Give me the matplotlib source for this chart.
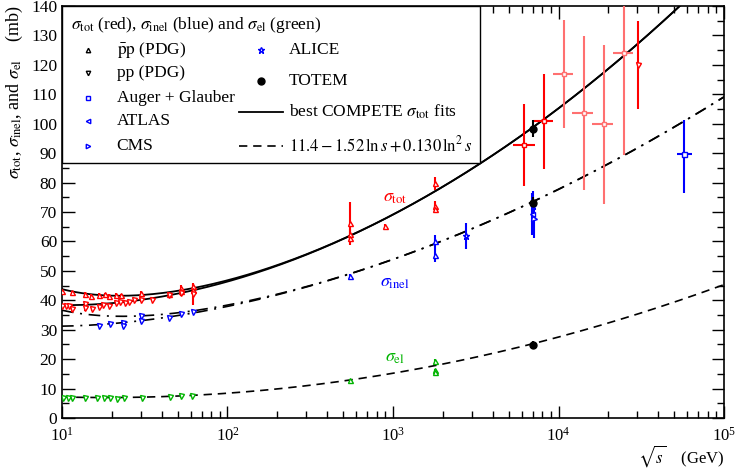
import numpy as np
import matplotlib.pyplot as plt
from matplotlib.patches import Rectangle
from matplotlib.ticker import MultipleLocator, LogLocator, NullFormatter

plt.rcParams['font.family'] = ['Liberation Serif', 'DejaVu Serif']
plt.rcParams['mathtext.fontset'] = 'stix'

# ============================================================
# DATA, sqrt(s) in GeV, sigma in mb
# ============================================================

# sigma_tot, pbar-p (PDG)
ppbar_tot_E = [10.0, 11.5, 13.7, 14.9, 16.8, 18.2, 19.3, 21.2, 22.7, 30.2, 44.3, 52.5, 52.5, 62.0, 62.0,
               546, 546, 546, 900, 1800, 1800, 1800]
ppbar_tot = [43.0, 42.8, 42.1, 41.6, 41.8, 42.1, 41.6, 41.8, 41.7, 42.4, 42.3, 44.3, 43.2, 44.7, 43.4,
             66.2, 62.6, 61.1, 65.1, 79.8, 72.2, 71.1]
ppbar_tot_err = [0.6, 0.5, 0.8, 0.5, 0.6, 0.5, 0.5, 0.6, 0.5, 0.6, 0.5, 1.0, 0.8, 1.2, 1.0,
                 7.3, 1.5, 1.0, 0.8, 2.2, 1.5, 1.2]

# sigma_tot, pp (PDG)
pp_tot_E = [10.0, 10.6, 11.1, 11.5, 13.7, 13.7, 15.2, 16.7, 17.8, 19.3, 21.2, 22.4, 24.0, 25.3, 27.4,
            30.2, 35.1, 44.3, 52.5, 62.0]
pp_tot = [37.9, 38.1, 38.1, 36.9, 38.8, 37.3, 37.0, 37.7, 38.5, 38.1, 39.0, 39.4, 39.2, 39.4, 40.1,
          40.1, 40.1, 41.9, 42.4, 42.0]
pp_tot_err = [0.5, 0.5, 0.5, 0.8, 0.6, 0.8, 0.8, 0.6, 0.5, 0.5, 0.5, 0.5, 0.5, 0.5, 0.5,
              0.6, 0.5, 0.6, 0.8, 3.5]

# sigma_tot, cosmic-ray points (with energy bins)
cr_tot_E = [6210, 8170, 10790, 14190, 18750, 24790]
cr_tot = [92.8, 100.9, 116.9, 103.8, 99.9, 124.0]
cr_tot_lo = [14.1, 16.3, 18.2, 26.2, 27.1, 34.5]
cr_tot_hi = [14.0, 16.0, 18.2, 26.1, 27.0, 20.0]
cr_E_lo = [5330, 7050, 9220, 12080, 16000, 21250]
cr_E_hi = [7210, 9220, 12190, 16110, 21250, 28080]
cr_light = [False, False, True, True, True, True]
cr2_tot_E = [30200]
cr2_tot = [120.0]
cr2_tot_err = [15.0]

# sigma_inel
pp_inel_E = [16.7, 19.6, 23.3, 23.3, 30.2, 30.2, 44.5, 52.5, 62.0]
pp_inel = [31.3, 31.8, 32.4, 31.3, 34.6, 33.1, 33.9, 35.3, 36.0]
pp_inel_err = [0.5, 0.6, 0.6, 0.6, 0.8, 0.8, 0.5, 0.8, 0.8]
ppbar_inel_E = [546, 1800, 1800]
ppbar_inel = [48.1, 60.0, 55.4]
ppbar_inel_err = [1.0, 2.3, 2.5]
alice_E = [2760, 7000]
alice_inel = [61.9, 72.2]
alice_err = [4.5, 5.0]
atlas_E = [6900]
atlas_inel = [69.3]
atlas_err = [7.0]
cms_E = [7150]
cms_inel = [67.7]
cms_err = [6.5]
auger_E = [57570]
auger_inel = [89.8]
auger_lo = [13.2]
auger_hi = [11.6]
auger_E_lo = [51760]
auger_E_hi = [63970]

# sigma_el
el_E = [10.2, 10.8, 11.5, 13.8, 16.2, 18.0, 19.5, 21.4, 23.7, 30.3, 45.0, 52.4, 61.2]
el = [6.9, 6.9, 6.7, 6.9, 6.9, 6.8, 6.8, 6.5, 6.9, 6.8, 7.1, 7.4, 7.4]
el_err = [0.4, 0.3, 0.5, 0.5, 0.4, 0.3, 0.3, 0.3, 0.5, 0.5, 0.3, 0.5, 0.3]
ppbar_el_E = [546, 1800, 1800, 1800]
ppbar_el = [12.9, 19.4, 16.3, 15.6]
ppbar_el_err = [0.3, 0.6, 0.5, 0.4]

# TOTEM at 7 TeV: tot, inel, el
totem_E = [7000, 7000, 7000]
totem = [98.3, 73.2, 24.8]
totem_err = [2.8, 2.0, 1.2]

# fit parameters (COMPETE-type sigma_tot, and quoted sigma_el parametrisation)
Z, B, S0 = 35.45, 0.308, 29.1
Y1, ETA1, Y2, ETA2 = 42.53, 0.458, 33.34, 0.545
EL_A, EL_B, EL_C = 11.4, -1.52, 0.130

# ============================================================
# FIGURE
# ============================================================

RED = '#ff0000'
LRED = '#ff7070'
BLUE = '#0000ff'
GREEN = '#00b400'

fig = plt.figure(figsize=(7.37, 4.68), dpi=100)
ax = fig.add_axes([0.0841, 0.1068, 0.8983, 0.8804])


def draw(E, s, yerr, color, marker, xerr=None, ms=3.6, mfc='white', ecolor=None):
    ax.errorbar(E, s, yerr=yerr, xerr=xerr, fmt=marker, color=color, ecolor=ecolor or color,
                mfc=mfc, mec=color, ms=ms, mew=1.0, elinewidth=1.5, capsize=0, zorder=4)


# fit curves
E_grid = np.logspace(1, 5, 400)
s = E_grid ** 2
ls0 = np.log(s / S0) ** 2
reg1 = Y1 * s ** (-ETA1)
reg2 = Y2 * s ** (-ETA2)
tot_pp = Z + B * ls0 + reg1 - reg2
tot_pbp = Z + B * ls0 + reg1 + reg2
sig_el = EL_A + EL_B * np.log(s) + EL_C * np.log(s) ** 2

ax.plot(E_grid, tot_pp, color='black', lw=1.3, zorder=3)
ax.plot(E_grid, tot_pbp, color='black', lw=1.3, zorder=3)
ax.plot(E_grid, tot_pp - sig_el, color='black', lw=1.2, ls=(0, (7, 4, 1.2, 4)), zorder=3)
ax.plot(E_grid, tot_pbp - sig_el, color='black', lw=1.2, ls=(0, (7, 4, 1.2, 4)), zorder=3)
ax.plot(E_grid, sig_el, color='black', lw=1.2, ls=(0, (5, 3.5)), zorder=3)

# sigma_tot
draw(ppbar_tot_E, ppbar_tot, ppbar_tot_err, RED, '^')
draw(pp_tot_E, pp_tot, pp_tot_err, RED, 'v')
for i in range(len(cr_tot_E)):
    c = LRED if cr_light[i] else RED
    draw([cr_tot_E[i]], [cr_tot[i]], [[cr_tot_lo[i]], [cr_tot_hi[i]]], c, 's',
         xerr=[[cr_tot_E[i] - cr_E_lo[i]], [cr_E_hi[i] - cr_tot_E[i]]], ms=3.2)
draw(cr2_tot_E, cr2_tot, cr2_tot_err, RED, 'v')

# sigma_inel
draw(pp_inel_E, pp_inel, pp_inel_err, BLUE, 'v')
draw(ppbar_inel_E, ppbar_inel, ppbar_inel_err, BLUE, '^')
draw(alice_E, alice_inel, alice_err, BLUE, '*', ms=4.5)
draw(atlas_E, atlas_inel, atlas_err, BLUE, '<')
draw(cms_E, cms_inel, cms_err, BLUE, '>')
draw(auger_E, auger_inel, [auger_lo, auger_hi], BLUE, 's',
     xerr=[[auger_E[0] - auger_E_lo[0]], [auger_E_hi[0] - auger_E[0]]])

# sigma_el
draw(el_E, el, el_err, GREEN, 'v')
draw(ppbar_el_E, ppbar_el, ppbar_el_err, GREEN, '^')

# TOTEM
draw(totem_E, totem, totem_err, 'black', 'o', ms=5, mfc='black')

# curve labels
ax.text(1030, 74.8, r'$\sigma_{\rm tot}$', color=RED, fontsize=13, ha='center', va='center')
ax.text(1030, 45.9, r'$\sigma_{\rm inel}$', color=BLUE, fontsize=13, ha='center', va='center')
ax.text(1030, 20.7, r'$\sigma_{\rm el}$', color=GREEN, fontsize=13, ha='center', va='center')

# axes
ax.set_xscale('log')
ax.set_xlim(10, 1e5)
ax.set_ylim(0, 140)
ax.yaxis.set_major_locator(MultipleLocator(10))
ax.yaxis.set_minor_locator(MultipleLocator(5))
ax.xaxis.set_minor_locator(LogLocator(base=10, subs=np.arange(2, 10)))
ax.xaxis.set_minor_formatter(NullFormatter())
ax.tick_params(which='both', direction='in', top=True, right=True, labelsize=12.5)
ax.tick_params(which='major', length=9, width=1.0)
ax.tick_params(which='minor', length=5, width=1.0)
ax.tick_params(axis='x', pad=6, labelsize=12)
for sp in ax.spines.values():
    sp.set_linewidth(1.2)

ax.set_ylabel(r'$\sigma_{\rm tot}$, $\sigma_{\rm inel}$, and $\sigma_{\rm el}$    (mb)',
              fontsize=13, loc='top', labelpad=4)
ax.set_xlabel(r'$\sqrt{s}$    (GeV)', fontsize=12, loc='right')
ax.xaxis.set_label_coords(1.0, -0.093)
ax.xaxis.label.set_va('center')

# ============================================================
# HAND-MADE LEGEND BOX
# ============================================================
T = ax.transAxes
ax.add_patch(Rectangle((0, 0.618), 0.631, 0.382, transform=T, facecolor='white',
                       edgecolor='black', lw=1.0, zorder=6))
fs = 12.5
ax.text(0.013, 0.955, r'$\sigma_{\rm tot}$ (red), $\sigma_{\rm inel}$ (blue) and $\sigma_{\rm el}$ (green)',
        transform=T, fontsize=fs, va='center', zorder=7)

col1 = [(r'$\bar{\mathrm{p}}\mathrm{p}$ (PDG)', '^', 'black', 0.893),
        (r'pp (PDG)', 'v', 'black', 0.838),
        (r'Auger + Glauber', 's', BLUE, 0.777),
        (r'ATLAS', '<', BLUE, 0.721),
        (r'CMS', '>', BLUE, 0.661)]
for lab, mk, c, yy in col1:
    ax.plot([0.0397], [yy], mk, color=c, mfc='white', mec=c, ms=3.2, mew=1.0, transform=T,
            zorder=7, clip_on=False)
    ax.text(0.0826, yy, lab, transform=T, fontsize=fs, va='center', zorder=7)

ax.plot([0.300], [0.893], '*', color=BLUE, mfc='white', mec=BLUE, ms=4.5, mew=1.0,
        transform=T, zorder=7, clip_on=False)
ax.text(0.343, 0.893, 'ALICE', transform=T, fontsize=fs, va='center', zorder=7)
ax.plot([0.300], [0.818], 'o', color='black', ms=5, transform=T, zorder=7, clip_on=False)
ax.text(0.343, 0.818, 'TOTEM', transform=T, fontsize=fs, va='center', zorder=7)
ax.plot([0.267, 0.334], [0.743, 0.743], color='black', lw=1.3, transform=T, zorder=7)
ax.text(0.343, 0.743, r'best COMPETE $\sigma_{\rm tot}$ fits', transform=T, fontsize=fs,
        va='center', zorder=7)
ax.plot([0.267, 0.334], [0.661, 0.661], color='black', lw=1.2, ls=(0, (5, 3.5)),
        transform=T, zorder=7)
ax.text(0.343, 0.661, r'$11.4 - 1.52\,\ln s + 0.130\,\ln^2 s$', transform=T, fontsize=12,
        va='center', zorder=7)

fig.savefig('out.png', dpi=100)
